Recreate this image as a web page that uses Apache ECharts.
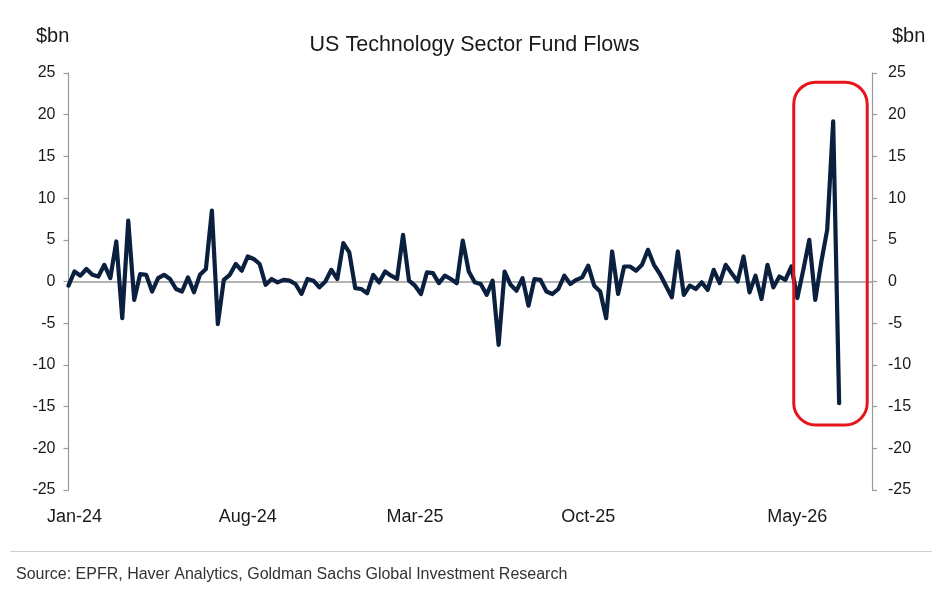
<!DOCTYPE html>
<html><head><meta charset="utf-8">
<script src="https://cdn.jsdelivr.net/npm/echarts@6/dist/echarts.min.js"></script>
<style>html,body{margin:0;padding:0;background:#fff}#c{width:949px;height:590px}</style>
</head><body><div id="c"></div>
<script>
// Weekly US technology sector fund flows, $bn
const flows = [
  -0.5, 1.2, 0.7, 1.5, 0.8, 0.6, 2.0, 0.4, 4.8, -4.4, 7.3, -2.2, 0.9, 0.8, -1.2, 0.4, 0.8, 0.3, -0.9, -1.2, 0.5, -1.3, 0.8, 1.5, 8.5, -5.1,
  0.2, 0.8, 2.1, 1.3, 3.0, 2.7, 2.1, -0.4, 0.3, -0.1, 0.2, 0.1, -0.3, -1.5, 0.3, 0.1, -0.7, 0.0, 1.4, 0.3, 4.6, 3.5, -0.8, -0.9, -1.4, 0.8,
  -0.1, 1.2, 0.7, 0.3, 5.6, 0.1, -0.5, -1.5, 1.1, 1.0, -0.2, 0.7, 0.3, -0.2, 4.9, 1.2, -0.1, -0.3, -1.6, 0.1, -7.6, 1.2, -0.4, -1.1, 0.4, -2.9,
  0.3, 0.2, -1.2, -1.5, -0.9, 0.7, -0.3, 0.2, 0.5, 1.9, -0.5, -1.2, -4.4, 3.6, -1.5, 1.8, 1.8, 1.3, 2.0, 3.8, 2.0, 0.9, -0.5, -1.9, 3.6, -1.6,
  -0.5, -0.9, -0.1, -1.0, 1.4, -0.2, 2.0, 1.0, 0.0, 3.0, -1.3, 0.7, -2.1, 2.0, -0.7, 0.6, 0.2, 1.8,
  -2.0, 1.4, 5.0, -2.2, 2.3, 6.2, 19.2, -14.6
];
// x tick labels and the week index each one sits on
const tickIndex = [1, 30, 58, 87, 122];
const tickLabels = ['Jan-24', 'Aug-24', 'Mar-25', 'Oct-25', 'May-26'];
// y axis scale
const yMin = -25, yMax = 25, yStep = 5;
// x extent in weeks
const xMax = 134.5;
// highlighted region (weeks, $bn)
const highlightWeeks = [121.4, 133.7];
const highlightValues = [-17.2, 23.9];

const FONT = "'Liberation Sans', Arial, sans-serif";
const chart = echarts.init(document.getElementById('c'), null, {renderer: 'canvas'});
const seriesData = flows.map((v, i) => [i, v]);
const nSplits = Math.round((yMax - yMin) / yStep) + 1;
const splitColors = [];
for (let k = 0; k < nSplits; k++) splitColors.push(yMin + k * yStep === 0 ? '#9a9a9a' : 'rgba(0,0,0,0)');

const yAxisBase = {
  type: 'value', min: yMin, max: yMax, interval: yStep,
  axisLine: {show: true, lineStyle: {color: '#9a9a9a', width: 1.2}},
  axisTick: {show: true, length: 5, lineStyle: {color: '#9a9a9a', width: 1.2}},
  axisLabel: {color: '#1a1a1a', fontSize: 16, fontFamily: FONT}
};

chart.setOption({
  animation: false,
  backgroundColor: '#fff',
  title: [
    {text: 'US Technology Sector Fund Flows', left: 'center', top: 29, textStyle: {fontSize: 21.5, fontWeight: 'normal', color: '#1a1a1a', fontFamily: FONT}},
    {text: '$bn', left: 31, top: 21, textStyle: {fontSize: 20, fontWeight: 'normal', color: '#1a1a1a', fontFamily: FONT}},
    {text: '$bn', left: 887, top: 21, textStyle: {fontSize: 20, fontWeight: 'normal', color: '#1a1a1a', fontFamily: FONT}},
    {text: 'Source: EPFR, Haver Analytics, Goldman Sachs Global Investment Research', left: 11, top: 562, textStyle: {fontSize: 16, fontWeight: 'normal', color: '#333', fontFamily: FONT}}
  ],
  grid: {left: 68.5, right: 77, top: 73, bottom: 100, containLabel: false},
  xAxis: {
    type: 'value', min: 0, max: xMax,
    axisLine: {show: false, onZero: false},
    axisTick: {show: false},
    splitLine: {show: false},
    axisLabel: {
      customValues: tickIndex,
      margin: 18,
      color: '#1a1a1a', fontSize: 18, fontFamily: FONT,
      formatter: v => { const k = tickIndex.indexOf(Math.round(v)); return k >= 0 ? tickLabels[k] : ''; }
    }
  },
  yAxis: [
    Object.assign({}, yAxisBase, {position: 'left', axisLabel: Object.assign({}, yAxisBase.axisLabel, {margin: 13}),
      splitLine: {show: true, lineStyle: {color: splitColors, width: 1.6}}}),
    Object.assign({}, yAxisBase, {position: 'right', axisLabel: Object.assign({}, yAxisBase.axisLabel, {margin: 16}),
      splitLine: {show: false}})
  ],
  series: [{
    type: 'line', data: seriesData, xAxisIndex: 0, yAxisIndex: 0,
    showSymbol: false, symbol: 'none', smooth: false,
    lineStyle: {color: '#0b1f3f', width: 4.2, join: 'round', cap: 'round'},
    z: 3
  }],
  graphic: [
    {id: 'sep', type: 'line', shape: {x1: 10, y1: 551.5, x2: 932, y2: 551.5}, style: {stroke: '#d0d0d0', lineWidth: 1}}
  ]
});

const p0 = chart.convertToPixel({xAxisIndex: 0, yAxisIndex: 0}, [highlightWeeks[0], highlightValues[1]]);
const p1 = chart.convertToPixel({xAxisIndex: 0, yAxisIndex: 0}, [highlightWeeks[1], highlightValues[0]]);
chart.setOption({
  graphic: [
    {id: 'sep', type: 'line', shape: {x1: 10, y1: 551.5, x2: 932, y2: 551.5}, style: {stroke: '#d0d0d0', lineWidth: 1}},
    {id: 'box', type: 'rect', z: 10,
     shape: {x: p0[0], y: p0[1], width: p1[0] - p0[0], height: p1[1] - p0[1], r: 22},
     style: {fill: 'none', stroke: '#e8141c', lineWidth: 3}}
  ]
});
</script>
</body></html>
